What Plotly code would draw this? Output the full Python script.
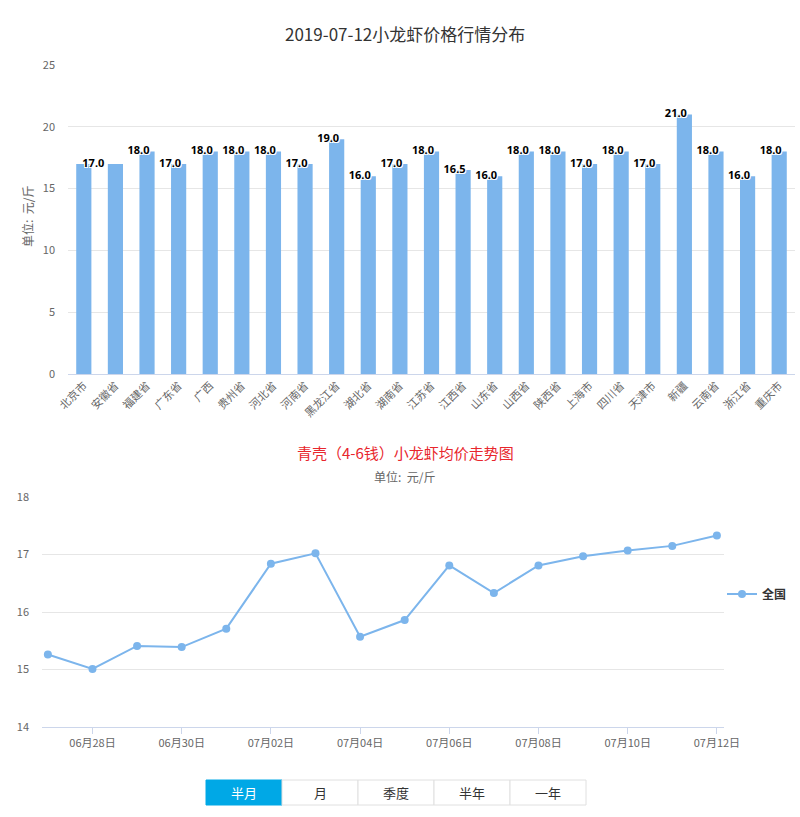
import plotly.graph_objects as go

# ---------------- data ----------------
provinces = ["北京市", "安徽省", "福建省", "广东省", "广西", "贵州省", "河北省", "河南省",
             "黑龙江省", "湖北省", "湖南省", "江苏省", "江西省", "山东省", "山西省", "陕西省",
             "上海市", "四川省", "天津市", "新疆", "云南省", "浙江省", "重庆市"]
prices = [17, 17, 18, 17, 18, 18, 18, 17, 19, 16, 17, 18, 16.5, 16, 18, 18, 17, 18, 17, 21, 18, 16, 18]
label_hidden = ["安徽省"]  # label hidden by overlap in the original

dates = ["2019-06-27", "2019-06-28", "2019-06-29", "2019-06-30", "2019-07-01", "2019-07-02",
         "2019-07-03", "2019-07-04", "2019-07-05", "2019-07-06", "2019-07-07", "2019-07-08",
         "2019-07-09", "2019-07-10", "2019-07-11", "2019-07-12"]
avg_price = [15.26, 15.01, 15.41, 15.39, 15.71, 16.84, 17.02, 15.57, 15.86, 16.81,
             16.33, 16.81, 16.97, 17.07, 17.15, 17.33]

range_buttons = ["半月", "月", "季度", "半年", "一年"]

# ---------------- styling ----------------
FONT = "Noto Sans CJK SC, Microsoft YaHei, sans-serif"
W, H = 800, 817
BAR_COLOR = "#7cb5ec"
GRID = "#e6e6e6"
AXIS = "#ccd6eb"


def px_x(v):
    return v / W


def px_y(v):
    return (H - v) / H


fig = go.Figure()

idx = list(range(len(provinces)))
fig.add_trace(go.Bar(
    x=idx, y=prices, width=0.48, marker=dict(color=BAR_COLOR, line=dict(width=0)),
    xaxis="x", yaxis="y", showlegend=False, hoverinfo="y",
))

# data labels (slightly left of bar centre as in the original; first one pushed inside)
lab_x = [(i + 0.3) if i == 0 else (i - 0.27) for i in idx]
lab_t = ["" if p in label_hidden else f"{v:.1f}" for p, v in zip(provinces, prices)]
fig.add_trace(go.Scatter(
    x=lab_x, y=prices, mode="text", text=lab_t, textposition="middle center",
    textfont=dict(family="Noto Sans, Arial, sans-serif", size=11, color="#000", weight="bold",
                  shadow="1px 1px 0 #fff, -1px -1px 0 #fff, 1px -1px 0 #fff, -1px 1px 0 #fff"),
    xaxis="x", yaxis="y", showlegend=False, hoverinfo="skip", cliponaxis=False,
))

fig.add_trace(go.Scatter(
    x=dates, y=avg_price, mode="lines+markers", name="全国",
    line=dict(color=BAR_COLOR, width=2), marker=dict(color=BAR_COLOR, size=8),
    xaxis="x2", yaxis="y2",
))

tickfont = dict(family=FONT, size=11, color="#666")

fig.update_layout(
    width=W, height=H,
    margin=dict(l=0, r=0, t=0, b=0, autoexpand=False),
    paper_bgcolor="white", plot_bgcolor="white",
    font=dict(family=FONT, color="#333"),
    xaxis=dict(domain=[px_x(68), px_x(795)], range=[-0.5, len(provinces) - 0.5],
               tickmode="array", tickvals=idx, ticktext=provinces, tickangle=-45,
               showgrid=False, zeroline=False, showline=True, linecolor=AXIS, linewidth=1,
               ticks="", tickfont=tickfont, anchor="y", automargin=False),
    yaxis=dict(domain=[px_y(374), px_y(65)], range=[0, 25], dtick=5,
               gridcolor=GRID, zeroline=False, showline=False, ticks="",
               ticklabelstandoff=12, tickfont=tickfont, anchor="x", automargin=False),
    xaxis2=dict(type="date", domain=[px_x(42), px_x(724)],
                range=["2019-06-26 20:50", "2019-07-12 03:50"],
                tick0="2019-06-28", dtick=2 * 86400000, tickformat="%m月%d日",
                ticks="outside", ticklen=6, tickcolor=AXIS, showline=True, linecolor=AXIS,
                showgrid=False, zeroline=False, tickfont=tickfont, anchor="y2", automargin=False),
    yaxis2=dict(domain=[px_y(727), px_y(497)], range=[14, 18], dtick=1,
                gridcolor=GRID, zeroline=False, showline=False, ticks="",
                ticklabelstandoff=12, tickfont=tickfont, anchor="x2", automargin=False),
    legend=dict(x=px_x(722), y=px_y(594), xanchor="left", yanchor="middle",
                font=dict(family=FONT, size=12, color="#333", weight="bold"),
                bgcolor="rgba(0,0,0,0)"),
)


def ann(text, x, y, size, color, angle=0):
    return dict(text=text, x=px_x(x), y=px_y(y), xref="paper", yref="paper",
                xanchor="center", yanchor="middle", showarrow=False, textangle=angle,
                font=dict(family=FONT, size=size, color=color))


annotations = [
    ann("2019-07-12小龙虾价格行情分布", 405, 33, 17, "#333"),
    ann("单位:  元/斤", 27, 217, 12, "#666", -90),
    ann("青壳（4-6钱）小龙虾均价走势图", 405, 452, 15, "#e8262c"),
    ann("单位:  元/斤", 404, 476, 12, "#666"),
]

shapes = []
bx0, bw, by0, by1 = 206, 76, 780, 805
for i, name in enumerate(range_buttons):
    x0 = bx0 + i * bw
    x1 = x0 + bw
    active = i == 0
    shapes.append(dict(type="rect", xref="paper", yref="paper",
                       x0=px_x(x0), x1=px_x(x1), y0=px_y(by1), y1=px_y(by0),
                       fillcolor="#00a8e6" if active else "white",
                       line=dict(color="#00a8e6" if active else "#e0e0e0", width=1),
                       layer="below"))
    annotations.append(ann(name, (x0 + x1) / 2, (by0 + by1) / 2, 13,
                           "white" if active else "#333"))

fig.update_layout(annotations=annotations, shapes=shapes)

fig.write_html("out.html")
